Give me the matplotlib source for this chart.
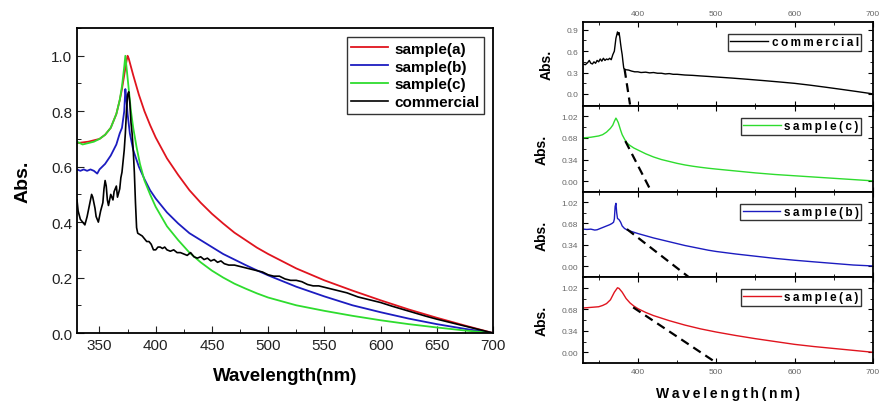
import matplotlib
matplotlib.use("Agg")
import matplotlib.pyplot as plt
from matplotlib.ticker import MultipleLocator

plt.rcParams["font.family"] = ["Liberation Sans", "DejaVu Sans"]

# ---- left panel data (wavelength in nm, absorbance) ----
wl_a = [330, 340, 350, 355, 360, 365, 368, 370, 372, 374, 375, 376, 378, 380, 385, 390, 395,
        400, 410, 420, 430, 440, 450, 460, 470, 480, 490, 500, 525, 550, 575, 600, 625, 650,
        675, 700]
abs_a = [0.685, 0.69, 0.70, 0.715, 0.74, 0.79, 0.84, 0.88, 0.93, 0.98, 1.0, 0.99, 0.96, 0.93,
         0.86, 0.80, 0.75, 0.705, 0.63, 0.57, 0.515, 0.47, 0.43, 0.395, 0.362, 0.335, 0.308,
         0.285, 0.233, 0.19, 0.153, 0.118, 0.085, 0.055, 0.027, 0.0]

wl_b = [330, 333, 336, 339, 342, 345, 348, 350, 355, 360, 365, 368, 370, 372, 373, 374, 375,
        377, 380, 385, 390, 395, 400, 410, 420, 430, 440, 450, 460, 470, 480, 490, 500, 525,
        550, 575, 600, 625, 650, 675, 700]
abs_b = [0.59, 0.585, 0.59, 0.585, 0.59, 0.585, 0.575, 0.59, 0.61, 0.64, 0.68, 0.72, 0.74,
         0.80, 0.88, 0.84, 0.79, 0.72, 0.66, 0.60, 0.555, 0.515, 0.485, 0.435, 0.395, 0.36,
         0.335, 0.31, 0.285, 0.265, 0.245, 0.226, 0.208, 0.167, 0.132, 0.10, 0.075, 0.052,
         0.032, 0.015, 0.0]

wl_c = [330, 335, 340, 345, 350, 355, 360, 365, 368, 370, 372, 373, 374, 376, 378, 380, 383,
        386, 390, 395, 400, 410, 420, 430, 440, 450, 460, 470, 480, 490, 500, 525, 550, 575,
        600, 625, 650, 675, 700]
abs_c = [0.69, 0.68, 0.685, 0.69, 0.70, 0.715, 0.74, 0.79, 0.84, 0.89, 0.96, 1.0, 0.96, 0.88,
         0.80, 0.74, 0.67, 0.61, 0.55, 0.50, 0.455, 0.385, 0.335, 0.29, 0.255, 0.225, 0.20,
         0.178, 0.16, 0.143, 0.128, 0.10, 0.08, 0.062, 0.046, 0.032, 0.02, 0.009, 0.0]

wl_com = [330, 331, 333, 335, 337, 339, 341, 343, 344, 346, 347, 349, 351, 353, 354, 355, 356,
          357, 358, 360, 362, 363, 365, 366, 368, 369, 370, 371, 372, 373, 374, 375, 376, 377,
          378, 379, 380, 381, 382, 383, 384, 386, 388, 390, 392, 394, 396, 398, 400, 402, 404,
          406, 408, 410, 413, 416, 419, 422, 425, 428, 431, 434, 437, 440, 443, 446, 449, 452,
          455, 458, 461, 465, 470, 475, 480, 485, 490, 495, 500, 505, 510, 515, 520, 525, 530,
          535, 540, 545, 550, 555, 560, 570, 580, 590, 600, 610, 620, 630, 640, 650, 660, 670,
          680, 690, 700]
abs_com = [0.48, 0.44, 0.41, 0.40, 0.39, 0.42, 0.46, 0.50, 0.49, 0.45, 0.42, 0.40, 0.44, 0.47,
           0.52, 0.55, 0.53, 0.48, 0.46, 0.50, 0.48, 0.51, 0.53, 0.49, 0.52, 0.56, 0.58, 0.62,
           0.66, 0.72, 0.80, 0.86, 0.87, 0.83, 0.76, 0.72, 0.66, 0.58, 0.47, 0.38, 0.36, 0.355,
           0.35, 0.34, 0.33, 0.33, 0.32, 0.30, 0.30, 0.31, 0.31, 0.305, 0.31, 0.30, 0.295, 0.30,
           0.29, 0.29, 0.285, 0.28, 0.29, 0.275, 0.27, 0.275, 0.265, 0.27, 0.26, 0.265, 0.255,
           0.26, 0.25, 0.245, 0.245, 0.24, 0.235, 0.23, 0.225, 0.22, 0.21, 0.205, 0.205, 0.195,
           0.19, 0.19, 0.185, 0.175, 0.17, 0.17, 0.165, 0.16, 0.155, 0.145, 0.13, 0.12, 0.11,
           0.097, 0.085, 0.073, 0.061, 0.05, 0.04, 0.03, 0.02, 0.01, 0.0]

# ---- right panels data ----
r_wl_com = [330, 333, 336, 338, 340, 342, 344, 346, 348, 350, 352, 354, 356, 358, 360, 362,
            364, 366, 368, 370, 372, 374, 375, 376, 377, 378, 379, 380, 381, 382, 384, 388,
            392, 396, 400, 404, 410, 415, 420, 425, 430, 435, 440, 445, 450, 460, 470, 480,
            490, 500, 520, 540, 560, 580, 600, 620, 640, 660, 680, 700]
r_abs_com = [0.42, 0.41, 0.44, 0.47, 0.43, 0.42, 0.45, 0.43, 0.47, 0.45, 0.49, 0.46, 0.50,
             0.47, 0.49, 0.48, 0.50, 0.48, 0.55, 0.60, 0.78, 0.87, 0.83, 0.86, 0.79, 0.70,
             0.62, 0.55, 0.45, 0.36, 0.34, 0.335, 0.32, 0.31, 0.31, 0.30, 0.305, 0.295, 0.30,
             0.29, 0.29, 0.28, 0.285, 0.275, 0.275, 0.265, 0.26, 0.252, 0.245, 0.237, 0.222,
             0.205, 0.187, 0.168, 0.148, 0.122, 0.093, 0.063, 0.032, 0.0]

r_wl_c = [330, 340, 350, 355, 360, 365, 368, 370, 372, 373, 375, 378, 380, 383, 386, 390,
          395, 400, 405, 410, 415, 420, 430, 440, 450, 460, 470, 480, 490, 500, 525, 550,
          575, 600, 625, 650, 675, 700]
r_abs_c = [0.68, 0.69, 0.71, 0.73, 0.77, 0.83, 0.88, 0.94, 0.99, 0.97, 0.92, 0.80, 0.73,
           0.66, 0.60, 0.56, 0.52, 0.49, 0.46, 0.43, 0.405, 0.38, 0.34, 0.31, 0.28, 0.255,
           0.235, 0.218, 0.203, 0.19, 0.16, 0.13, 0.105, 0.085, 0.065, 0.045, 0.025, 0.005]

r_wl_b = [330, 335, 340, 345, 348, 352, 356, 360, 364, 367, 369, 370, 371, 372, 373, 374,
          376, 378, 380, 383, 386, 390, 395, 400, 410, 420, 430, 440, 450, 460, 470, 480,
          490, 500, 525, 550, 575, 600, 625, 650, 675, 700]
r_abs_b = [0.59, 0.585, 0.59, 0.575, 0.58, 0.60, 0.62, 0.64, 0.66, 0.68, 0.70, 0.75, 0.95,
           1.00, 0.85, 0.76, 0.74, 0.70, 0.64, 0.60, 0.58, 0.56, 0.54, 0.52, 0.485, 0.45,
           0.42, 0.39, 0.36, 0.33, 0.305, 0.28, 0.255, 0.235, 0.195, 0.16, 0.125, 0.096,
           0.07, 0.045, 0.02, 0.005]

r_wl_a = [330, 340, 350, 355, 360, 365, 370, 374, 376, 380, 385, 390, 395, 400, 410, 420,
          430, 440, 450, 460, 470, 480, 490, 500, 525, 550, 575, 600, 625, 650, 675, 700]
r_abs_a = [0.70, 0.71, 0.72, 0.74, 0.77, 0.83, 0.95, 1.02, 1.01, 0.95, 0.85, 0.78, 0.73,
           0.69, 0.63, 0.58, 0.54, 0.50, 0.465, 0.43, 0.40, 0.37, 0.345, 0.32, 0.265, 0.215,
           0.17, 0.125, 0.09, 0.06, 0.03, 0.0]

# tangent (dashed) lines: two points each
tan_com = ([383, 390], [0.35, -0.15])
tan_c = ([384, 417], [0.63, -0.16])
tan_b = ([386, 471], [0.59, -0.23])
tan_a = ([394, 503], [0.71, -0.19])

labels = ["sample(a)", "sample(b)", "sample(c)", "commercial"]
colors = ["#e0141e", "#1c1cc0", "#2edc2e", "#000000"]


def spaced(text):
    return "\u2009".join(text)


def style_inward(ax, all_sides=False):
    ax.tick_params(which="both", direction="in", top=all_sides, right=all_sides)
    for sp in ax.spines.values():
        sp.set_linewidth(1.3)


fig = plt.figure(figsize=(8.82, 4.06), dpi=100)

# ---- left panel ----
ax = fig.add_axes([0.0873, 0.1773, 0.4717, 0.7512])
ax.plot(wl_a, abs_a, color=colors[0], lw=1.3, label=labels[0])
ax.plot(wl_b, abs_b, color=colors[1], lw=1.3, label=labels[1])
ax.plot(wl_c, abs_c, color=colors[2], lw=1.3, label=labels[2])
ax.plot(wl_com, abs_com, color=colors[3], lw=1.2, label=labels[3])
ax.set_xlim(330, 700)
ax.set_ylim(0, 1.1)
ax.xaxis.set_major_locator(MultipleLocator(50))
ax.xaxis.set_minor_locator(MultipleLocator(25))
ax.yaxis.set_major_locator(MultipleLocator(0.2))
ax.yaxis.set_minor_locator(MultipleLocator(0.1))
ax.yaxis.set_major_formatter(plt.FormatStrFormatter("%.1f"))
style_inward(ax)
ax.tick_params(which="major", length=5, labelsize=11, colors="#222222")
ax.tick_params(which="minor", length=3)
ax.set_xlabel("Wavelength(nm)", fontsize=13.5, fontweight="bold", labelpad=11)
ax.set_ylabel("Abs.", fontsize=14, fontweight="bold", labelpad=14)
leg = ax.legend(loc="upper right", prop={"weight": "bold", "size": 11},
                frameon=True, fancybox=False, edgecolor="black", handlelength=2.4,
                labelspacing=0.25, borderaxespad=0.6, borderpad=0.3, handletextpad=0.4)
leg.get_frame().set_linewidth(1.0)

# ---- right panels ----
right_data = [
    (r_wl_com, r_abs_com, tan_com, colors[3], labels[3], [0.0, 0.3, 0.6, 0.9], (-0.17, 1.01), 0.7365, 0.2069),
    (r_wl_c, r_abs_c, tan_c, colors[2], labels[2], [0.0, 0.34, 0.68, 1.02], (-0.17, 1.18), 0.5246, 0.2118),
    (r_wl_b, r_abs_b, tan_b, colors[1], labels[1], [0.0, 0.34, 0.68, 1.02], (-0.17, 1.18), 0.3153, 0.2094),
    (r_wl_a, r_abs_a, tan_a, colors[0], labels[0], [0.0, 0.34, 0.68, 1.02], (-0.17, 1.19), 0.1034, 0.2118),
]

for i, (xs, ys, tan, col, lab, yt, ylim, bottom, height) in enumerate(right_data):
    rax = fig.add_axes([0.661, bottom, 0.3288, height])
    rax.plot(xs, ys, color=col, lw=1.0, label=spaced(lab))
    rax.plot(tan[0], tan[1], color="black", lw=1.6, ls=(0, (4, 2.5)))
    rax.set_xlim(330, 700)
    rax.set_ylim(*ylim)
    rax.set_yticks(yt)
    if yt[1] == 0.3:
        rax.yaxis.set_major_formatter(plt.FormatStrFormatter("%.1f"))
    else:
        rax.yaxis.set_major_formatter(plt.FormatStrFormatter("%.2f"))
    rax.yaxis.set_minor_locator(MultipleLocator(yt[1] / 2))
    rax.xaxis.set_major_locator(MultipleLocator(100))
    rax.xaxis.set_minor_locator(MultipleLocator(50))
    style_inward(rax, all_sides=True)
    rax.tick_params(which="major", length=3.5, labelsize=6, labelcolor="#666666")
    rax.tick_params(which="minor", length=2)
    if i == 0:
        rax.tick_params(axis="x", labeltop=True, labelbottom=False)
    elif i == 3:
        rax.tick_params(axis="x", labelbottom=True)
        rax.set_xlabel(spaced("Wavelength(nm)"), fontsize=10, fontweight="bold", labelpad=8)
    else:
        rax.tick_params(axis="x", labelbottom=False)
    rax.set_ylabel("Abs.", fontsize=10, fontweight="bold", labelpad=9)
    rleg = rax.legend(loc="upper right", prop={"weight": "bold", "size": 8.5},
                      frameon=True, fancybox=False, edgecolor="black", handlelength=3.2,
                      borderpad=0.2, borderaxespad=1.0, handletextpad=0.3)
    rleg.get_frame().set_linewidth(1.0)

fig.savefig("out.png", dpi=100)
